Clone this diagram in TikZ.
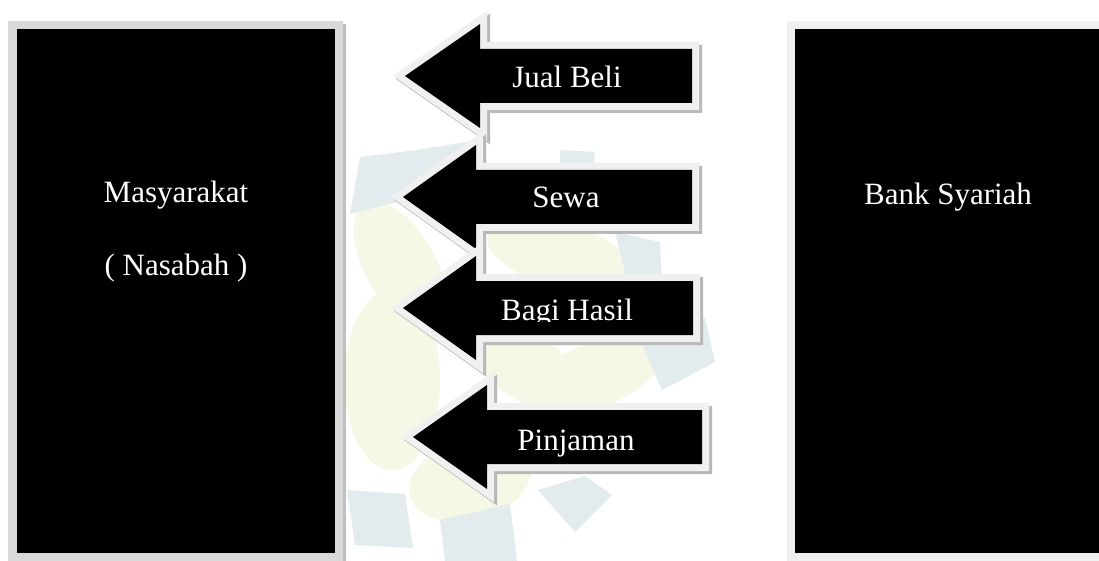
\documentclass[tikz,border=0pt]{standalone}
\usepackage{fontspec}
\setmainfont{Liberation Serif}
\definecolor{tealw}{HTML}{E2EBED}
\definecolor{yelw}{HTML}{F5F8E4}
\definecolor{arrborderc}{HTML}{F0F0F0}
\definecolor{arrshadowc}{HTML}{B8B8B8}
\definecolor{lboxborder}{HTML}{D9D9D9}
\definecolor{lboxshadow}{HTML}{BFBFBF}
\tikzset{
  arrshadow/.style={fill=arrshadowc,draw=arrshadowc,line width=14pt,line join=miter},
  arrborder/.style={draw=arrborderc,line width=14pt,line join=miter},
  lbl/.style={text=white,font=\fontsize{31}{37}\selectfont,anchor=base,inner sep=0pt},
  wmteal/.style={fill=tealw},
  wmyel/.style={fill=yelw}
}
\newcommand\myarrow[4]{%
  \begin{scope}[xshift=3pt,yshift=-3pt]
    \filldraw[arrshadow] (#1,#4) -- (#2,#4-52) -- (#2,#4-27) -- (#3,#4-27) -- (#3,#4+27) -- (#2,#4+27) -- (#2,#4+52) -- cycle;
  \end{scope}
  \draw[arrborder] (#1,#4) -- (#2,#4-52) -- (#2,#4-27) -- (#3,#4-27) -- (#3,#4+27) -- (#2,#4+27) -- (#2,#4+52) -- cycle;
  \fill[black] (#1,#4) -- (#2,#4-52) -- (#2,#4-27) -- (#3,#4-27) -- (#3,#4+27) -- (#2,#4+27) -- (#2,#4+52) -- cycle;
}
\begin{document}
\begin{tikzpicture}[x=1pt,y=-1pt]
\useasboundingbox (0,0) rectangle (1099,561);
\fill[white] (0,0) rectangle (1099,561);
% watermark
\fill[wmyel,rotate around={-60:(400,265)}] (400,265) ellipse [x radius=70, y radius=35];
\fill[wmyel,rotate around={-15:(560,255)}] (560,255) ellipse [x radius=75, y radius=32];
\fill[wmyel,rotate around={20:(595,375)}] (595,375) ellipse [x radius=70, y radius=32];
\fill[wmyel] (392,380) ellipse [x radius=48, y radius=90];
\fill[wmyel,rotate around={15:(470,480)}] (470,480) ellipse [x radius=62, y radius=40];
\fill[wmyel,rotate around={-40:(520,360)}] (520,360) ellipse [x radius=60, y radius=35];
\fill[wmteal] (360,157) -- (418,150) -- (478,140) -- (490,170) -- (405,200) -- (350,214) -- cycle;
\fill[wmteal] (560,150) -- (595,152) -- (590,190) -- (560,178) -- cycle;
\fill[wmteal] (615,232) -- (660,242) -- (662,283) -- (630,292) -- cycle;
\fill[wmteal] (640,340) -- (705,318) -- (715,362) -- (662,390) -- cycle;
\fill[wmteal] (347,490) -- (405,494) -- (413,548) -- (355,545) -- cycle;
\fill[wmteal] (440,520) -- (510,504) -- (517,561) -- (445,561) -- cycle;
\fill[wmteal] (538,490) -- (585,476) -- (612,495) -- (575,532) -- cycle;
% left box
\fill[lboxshadow] (11,24) rectangle (346,564);
\fill[lboxborder] (8,21) rectangle (343,561);
\fill[black] (17,29) rectangle (335,553);
% right box
\fill[arrborderc] (787,21) rectangle (1105,561);
\fill[black] (795,29) rectangle (1110,553);
% arrows
\myarrow{405}{480}{692}{76}
\myarrow{403}{476}{692}{197}
\myarrow{403}{476}{693}{308}
\myarrow{413}{487}{702}{437}
% labels
\node[lbl] (masy) at (176,203) {Masyarakat};
\node[lbl] (nasa) at (176,275) {( Nasabah )};
\node[lbl] (bank) at (948,205) {Bank Syariah};
\node[lbl] (jual) at (567,88) {Jual Beli};
\node[lbl] (sewa) at (566,208) {Sewa};
\begin{scope}
  \clip (480,260) rectangle (700,321);
  \node[lbl] (bagi) at (567,320) {Bagi Hasil};
\end{scope}
\node[lbl] (pinj) at (576,450) {Pinjaman};
\end{tikzpicture}
\end{document}
